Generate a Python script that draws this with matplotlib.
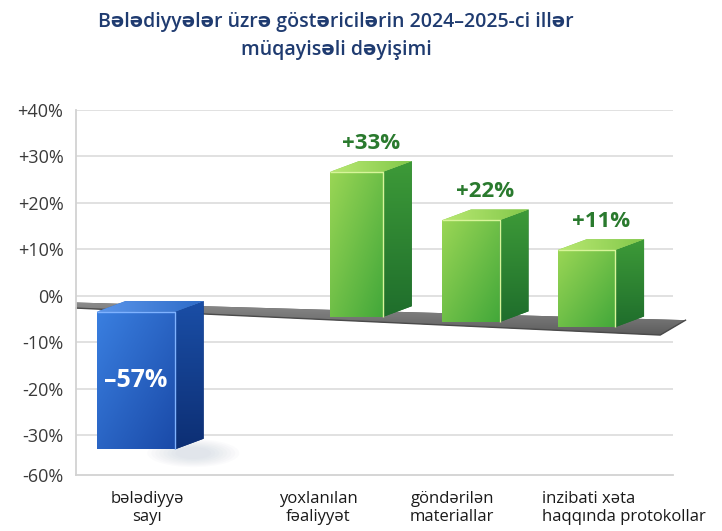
import numpy as np
import matplotlib.pyplot as plt
from matplotlib.patches import Polygon, Ellipse
from matplotlib.colors import LinearSegmentedColormap

plt.rcParams['font.family'] = ['Open Sans', 'DejaVu Sans']

# data (the drawing is not to scale, so the drawn
# extent of each bar is kept apart from its printed change)
categories = ['bələdiyyə\nsayı', 'yoxlanılan\nfəaliyyət',
              'göndərilən\nmateriallar', 'inzibati xəta\nhaqqında protokollar']
changes = [-57, 33, 22, 11]
bar_low = [-33.0, -4.5, -5.6, -6.7]
bar_high = [-3.4, 26.7, 16.3, 9.9]
tick_pos = [40, 30, 20, 10, 0, -10, -20, -30, -38.5]
tick_labels = ['+40%', '+30%', '+20%', '+10%', '0%', '-10%', '-20%', '-30%', '-60%']

xpos = [0.0, 1.92, 2.915, 3.92]
widths = [0.68, 0.46, 0.50, 0.50]
label_x = [0.097, 1.584, 2.75, 3.532]
label_ha = ['center', 'center', 'center', 'left']
dx, dy = 0.25, 2.3


def grad_face(ax, pts, c1, c2, mode='h', z=3):
    poly = Polygon(pts, closed=True, facecolor=c2, edgecolor='none', zorder=z, clip_on=False)
    ax.add_patch(poly)
    xs = [p[0] for p in pts]
    ys = [p[1] for p in pts]
    cmap = LinearSegmentedColormap.from_list('g', [c1, c2])
    gx, gy = np.meshgrid(np.linspace(0, 1, 64), np.linspace(0, 1, 64))
    if mode == 'h':
        g = gx
    elif mode == 'v':
        g = 1 - gy
    else:
        g = (gx + (1 - gy)) / 2
    im = ax.imshow(g, cmap=cmap, extent=(min(xs), max(xs), min(ys), max(ys)),
                   aspect='auto', origin='lower', zorder=z, interpolation='bilinear')
    im.set_clip_box(ax.figure.bbox)
    im.set_clip_path(poly)


def bar3d(ax, xc, w, lo, hi, colors, z=3):
    front_a, front_b, side_a, side_b, top_a, top_b, hl = colors
    x0, x1 = xc - w / 2, xc + w / 2
    grad_face(ax, [(x0, lo), (x1, lo), (x1, hi), (x0, hi)], front_a, front_b, 'd', z)
    grad_face(ax, [(x1, lo), (x1 + dx, lo + dy), (x1 + dx, hi + dy), (x1, hi)], side_a, side_b, 'v', z)
    grad_face(ax, [(x0, hi), (x1, hi), (x1 + dx, hi + dy), (x0 + dx, hi + dy)], top_a, top_b, 'h', z + 0.1)
    ax.plot([x0, x1, x1], [hi, hi, lo], color=hl, lw=1.0, zorder=z + 0.2, solid_capstyle='butt')


fig = plt.figure(figsize=(7.22, 5.31), dpi=100)
fig.patch.set_facecolor('white')
ax = fig.add_axes([76 / 722, 56 / 531, 597 / 722, 365 / 531])
ax.set_facecolor('white')

# grid + axis
for t in tick_pos[:-1]:
    ax.axhline(t, color='#dedede', lw=1.3, zorder=0)
for s in ['top', 'right']:
    ax.spines[s].set_visible(False)
for s in ['left', 'bottom']:
    ax.spines[s].set_color('#d2d2d2')
    ax.spines[s].set_linewidth(1.3)
ax.set_yticks(tick_pos)
ax.set_yticklabels(tick_labels, fontsize=13, color='#3a3a3a')
ax.tick_params(axis='y', length=0, pad=9)
ax.set_xticks([])

# floor plane
floor = [(-0.52, -1.4), (4.78, -5.2), (4.56, -8.4), (-0.52, -2.6)]
grad_face(ax, floor, '#8c8c8c', '#5c5c5c', 'v', z=2)
ax.plot([-0.52, 4.56, 4.78], [-2.6, -8.4, -5.2], color='#4a4a4a', lw=1.0,
        zorder=2.1, clip_on=False)

# soft shadow under the negative bar
for k in range(8):
    ax.add_patch(Ellipse((0.5, -33.8), 0.8 - k * 0.07, 6 - k * 0.5,
                         facecolor='#8a98b4', alpha=0.03, edgecolor='none', zorder=1))

blue = ('#3a7fe0', '#1a4aa8', '#1a4ea6', '#0d2f74', '#5a95ea', '#2f6cc8', '#7fb2ff')
green = ('#9ad655', '#43a83a', '#3d9a38', '#1f6e2c', '#b9e872', '#82c84a', '#d8f59a')

for i in range(len(changes)):
    bar3d(ax, xpos[i], widths[i], bar_low[i], bar_high[i],
          blue if changes[i] < 0 else green)
    if changes[i] < 0:
        ax.text(xpos[i], (bar_low[i] + bar_high[i]) / 2, f'–{abs(changes[i])}%',
                ha='center', va='center', fontsize=18, fontweight='bold',
                color='white', zorder=6)
    else:
        ax.text(xpos[i] + dx / 2, bar_high[i] + dy + 3.8, f'+{changes[i]}%',
                ha='center', va='center', fontsize=16, fontweight='bold',
                color='#2a7a2e', zorder=6)

for i, lab in enumerate(categories):
    ax.text(label_x[i], -45.6, lab, ha=label_ha[i], va='center',
            multialignment=label_ha[i], fontsize=12, color='#1a1a1a',
            linespacing=1.1, clip_on=False)

ax.set_xlim(-0.52, -0.52 + 597 / 115)
ax.set_ylim(-38.5, 40)

fig.text(336 / 722, 1 - 36 / 531,
         'Bələdiyyələr üzrə göstəricilərin 2024–2025-ci illər\nmüqayisəli dəyişimi',
         ha='center', va='center', fontsize=14, fontweight='semibold',
         color='#1f3b70', linespacing=1.5)

plt.savefig('out.png', dpi=100)
